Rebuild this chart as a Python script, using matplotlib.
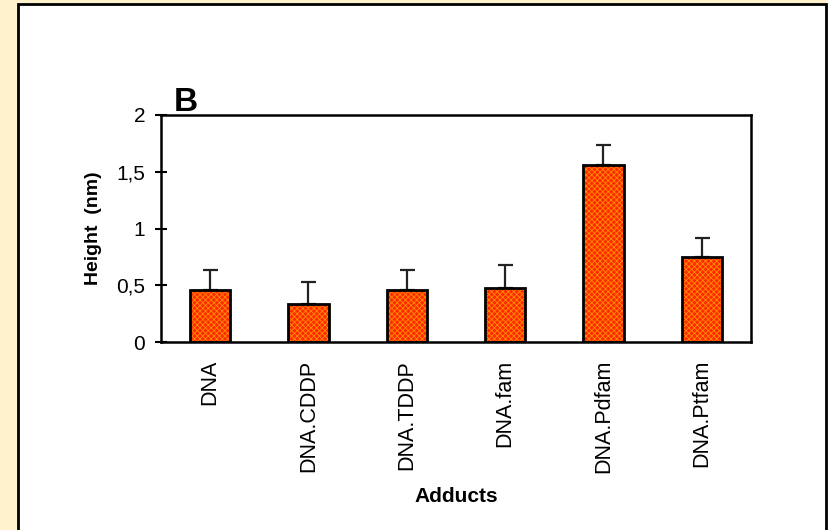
import matplotlib
matplotlib.use("Agg")
import matplotlib.pyplot as plt
from matplotlib.patches import Rectangle
import numpy as np

plt.rcParams['font.family'] = ['Liberation Sans', 'DejaVu Sans']
plt.rcParams['hatch.linewidth'] = 0.6

# data
adducts = ['DNA', 'DNA.CDDP', 'DNA.TDDP', 'DNA.fam', 'DNA.Pdfam', 'DNA.Ptfam']
heights = [0.46, 0.335, 0.455, 0.48, 1.56, 0.745]
errors = [0.17, 0.19, 0.18, 0.20, 0.18, 0.175]
yticks = [0, 0.5, 1, 1.5, 2]
ytick_labels = ['0', '0,5', '1', '1,5', '2']

fig = plt.figure(figsize=(8.29, 5.30), dpi=100)
fig.patch.set_facecolor('#FFF2CC')

# white panel with black frame, kept behind the axes
panel = Rectangle((18 / 829, -0.05), (826 - 18) / 829, 1.05 - 4 / 530,
                  transform=fig.transFigure, facecolor='white',
                  edgecolor='black', linewidth=2, zorder=-5)
fig.patches.append(panel)

ax = fig.add_axes([161 / 829, 1 - 342 / 530, (751 - 161) / 829, (342 - 115) / 530])
ax.set_zorder(2)
ax.set_facecolor('white')

x = np.arange(len(adducts))
w = 0.41

# textured fill, then black outline on top
ax.bar(x, heights, width=w, color='#FF2800', edgecolor='#FF8E00',
       hatch='xxxxxx', linewidth=0, zorder=2)
ax.bar(x, heights, width=w, fill=False, edgecolor='black', linewidth=2, zorder=3)

ax.errorbar(x, heights, yerr=[np.zeros(len(errors)), errors], fmt='none',
            ecolor='#222222', elinewidth=1.6, capsize=5.4, capthick=1.6, zorder=1)

ax.set_xlim(-0.5, len(adducts) - 0.5)
ax.set_ylim(0, 2)
ax.set_yticks(yticks)
ax.set_yticklabels(ytick_labels)
ax.set_xticks(x)
ax.set_xticklabels(adducts, rotation=90)

ax.tick_params(axis='y', direction='inout', length=8.5, width=1.5, labelsize=15, pad=7)
ax.tick_params(axis='x', length=0, labelsize=15.5, pad=13)

for s in ax.spines.values():
    s.set_linewidth(1.8)
    s.set_color('black')

ax.set_ylabel('Height  (nm)', fontsize=14, fontweight='bold', labelpad=10)
ax.set_xlabel('Adducts', fontsize=15, fontweight='bold', labelpad=10)

fig.text(174 / 829, 1 - 111 / 530, 'B', fontsize=24, fontweight='bold',
         ha='left', va='baseline')

fig.savefig('out.png', dpi=100, facecolor=fig.get_facecolor())
